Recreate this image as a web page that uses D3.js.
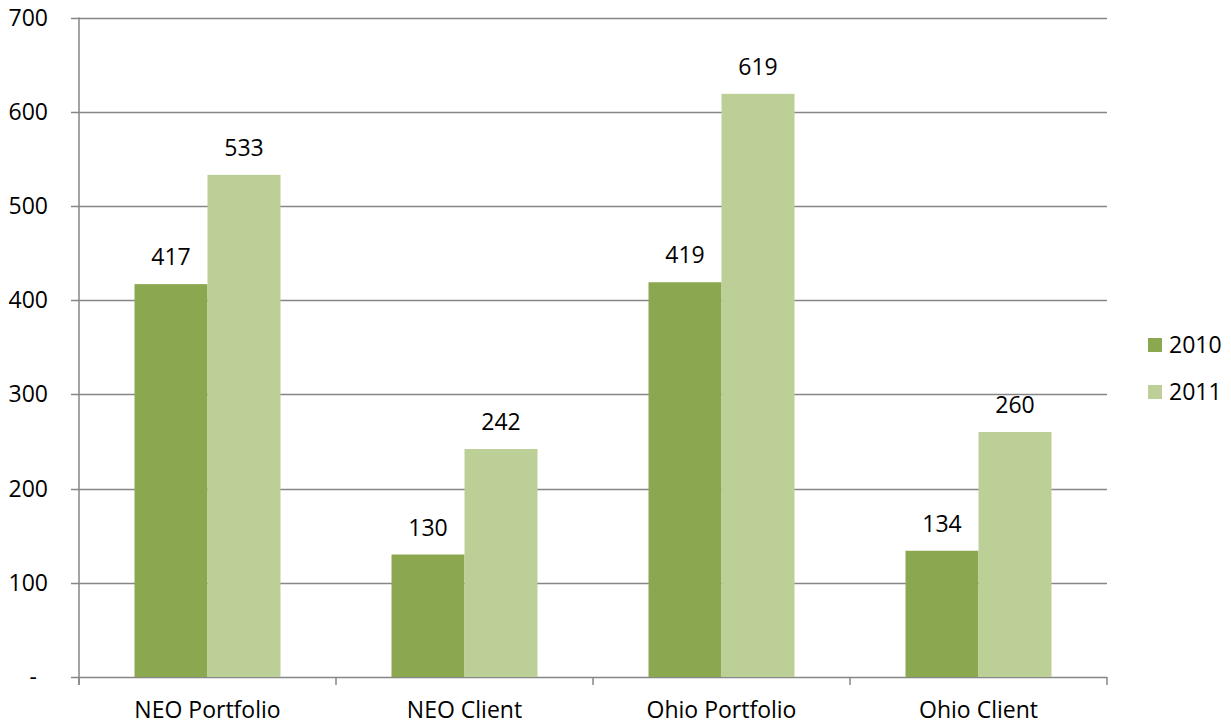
<!DOCTYPE html>
<html><head><meta charset="utf-8">
<script src="https://cdn.jsdelivr.net/npm/d3@7"></script>
<style>body{margin:0;background:#fff}svg{display:block}text{font-family:"Open Sans",Lato,sans-serif;fill:#000}</style>
</head><body>
<svg id="c" width="1231" height="725"></svg>
<script>
const categories = ["NEO Portfolio","NEO Client","Ohio Portfolio","Ohio Client"];
const seriesNames = ["2010","2011"];
const values2010 = [417,130,419,134];
const values2011 = [533,242,619,260];
const yTicks = [0,100,200,300,400,500,600,700];
const colors = ["#8ba74f","#bbcf97"];

(function(){
const FS = 23;
const svg = d3.select("#c");
const pLeft = 79, pRight = 1107, pTop = 17.5, pBottom = 677;
const x = d3.scaleBand().domain(categories).range([pLeft,pRight]).paddingInner(0).paddingOuter(0);
const y = d3.scaleLinear().domain([0,700]).range([pBottom,pTop]);
const inner = d3.scaleBand().domain(seriesNames).range([0,146]);
const groupOff = (x.bandwidth()-146)/2;

svg.append("g").selectAll("line").data(yTicks).join("line")
  .attr("x1",71).attr("x2",pRight).attr("y1",d=>Math.round(y(d))+0.5).attr("y2",d=>Math.round(y(d))+0.5)
  .attr("stroke","#868686").attr("stroke-width",1.5);
svg.append("line").attr("x1",pLeft).attr("x2",pLeft).attr("y1",pTop).attr("y2",685)
  .attr("stroke","#868686").attr("stroke-width",1.5);
svg.append("g").selectAll("line").data(d3.range(categories.length+1)).join("line")
  .attr("x1",i=>pLeft+i*x.bandwidth()).attr("x2",i=>pLeft+i*x.bandwidth())
  .attr("y1",pBottom).attr("y2",685).attr("stroke","#868686").attr("stroke-width",1.5);

svg.append("g").selectAll("text").data(yTicks).join("text")
  .attr("x",48).attr("y",d=>y(d)+8).attr("text-anchor","end").attr("font-size",FS)
  .text(d=>d===0?"-":d).attr("dx",d=>d===0?-11:0);

svg.append("g").selectAll("text").data(categories).join("text")
  .attr("x",d=>x(d)+x.bandwidth()/2).attr("y",718).attr("text-anchor","middle").attr("font-size",FS)
  .text(d=>d);

const series = [values2010, values2011];
series.forEach((vals,si)=>{
  const g = svg.append("g");
  g.selectAll("rect").data(categories).join("rect")
    .attr("x",(d)=>x(d)+groupOff+inner(seriesNames[si]))
    .attr("width",inner.bandwidth())
    .attr("y",(d,i)=>y(vals[i]))
    .attr("height",(d,i)=>pBottom-y(vals[i]))
    .attr("fill",colors[si]);
  g.selectAll("text").data(categories).join("text")
    .attr("x",(d)=>x(d)+groupOff+inner(seriesNames[si])+inner.bandwidth()/2)
    .attr("y",(d,i)=>y(vals[i])-19)
    .attr("text-anchor","middle").attr("font-size",FS)
    .text((d,i)=>vals[i]);
});

const lg = svg.append("g");
seriesNames.forEach((s,i)=>{
  lg.append("rect").attr("x",1148).attr("y",338+i*47).attr("width",14).attr("height",14).attr("fill",colors[i]);
  lg.append("text").attr("x",1169).attr("y",352.5+i*47).attr("font-size",FS).text(s);
});
})();
</script>
</body></html>
